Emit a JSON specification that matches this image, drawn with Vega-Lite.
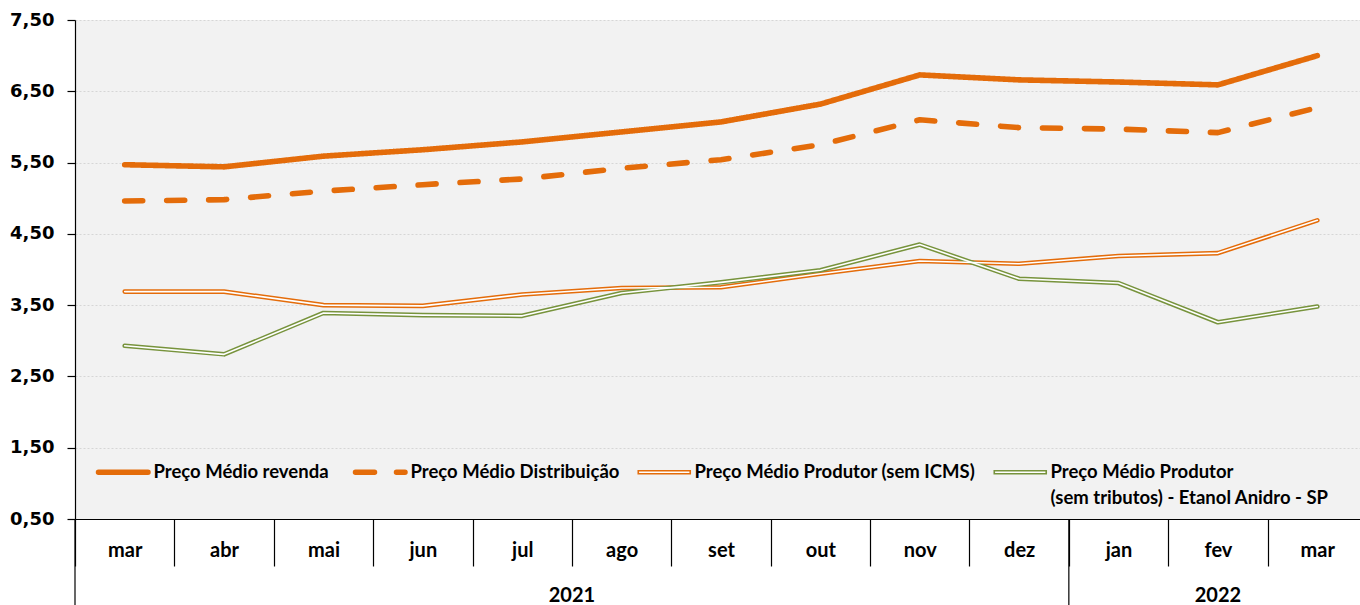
{
  "$schema": "https://vega.github.io/schema/vega-lite/v6.json",
  "width": 1292,
  "height": 499,
  "padding": {"left": 9, "top": 11, "right": 0, "bottom": 0},
  "background": "white",
  "config": {"view": {"fill": "#F2F2F2", "stroke": null}, "font": "Lato"},
  "datasets": {
    "precos": [
      {"periodo": "mar 2021", "serie": "Preço Médio revenda", "valor": 5.47},
      {"periodo": "abr 2021", "serie": "Preço Médio revenda", "valor": 5.44},
      {"periodo": "mai 2021", "serie": "Preço Médio revenda", "valor": 5.59},
      {"periodo": "jun 2021", "serie": "Preço Médio revenda", "valor": 5.68},
      {"periodo": "jul 2021", "serie": "Preço Médio revenda", "valor": 5.79},
      {"periodo": "ago 2021", "serie": "Preço Médio revenda", "valor": 5.93},
      {"periodo": "set 2021", "serie": "Preço Médio revenda", "valor": 6.07},
      {"periodo": "out 2021", "serie": "Preço Médio revenda", "valor": 6.32},
      {"periodo": "nov 2021", "serie": "Preço Médio revenda", "valor": 6.73},
      {"periodo": "dez 2021", "serie": "Preço Médio revenda", "valor": 6.66},
      {"periodo": "jan 2022", "serie": "Preço Médio revenda", "valor": 6.63},
      {"periodo": "fev 2022", "serie": "Preço Médio revenda", "valor": 6.59},
      {"periodo": "mar 2022", "serie": "Preço Médio revenda", "valor": 7.00},
      {"periodo": "mar 2021", "serie": "Preço Médio Distribuição", "valor": 4.96},
      {"periodo": "abr 2021", "serie": "Preço Médio Distribuição", "valor": 4.98},
      {"periodo": "mai 2021", "serie": "Preço Médio Distribuição", "valor": 5.10},
      {"periodo": "jun 2021", "serie": "Preço Médio Distribuição", "valor": 5.19},
      {"periodo": "jul 2021", "serie": "Preço Médio Distribuição", "valor": 5.27},
      {"periodo": "ago 2021", "serie": "Preço Médio Distribuição", "valor": 5.42},
      {"periodo": "set 2021", "serie": "Preço Médio Distribuição", "valor": 5.54},
      {"periodo": "out 2021", "serie": "Preço Médio Distribuição", "valor": 5.75},
      {"periodo": "nov 2021", "serie": "Preço Médio Distribuição", "valor": 6.10},
      {"periodo": "dez 2021", "serie": "Preço Médio Distribuição", "valor": 5.99},
      {"periodo": "jan 2022", "serie": "Preço Médio Distribuição", "valor": 5.97},
      {"periodo": "fev 2022", "serie": "Preço Médio Distribuição", "valor": 5.92},
      {"periodo": "mar 2022", "serie": "Preço Médio Distribuição", "valor": 6.27},
      {"periodo": "mar 2021", "serie": "Preço Médio Produtor (sem ICMS)", "valor": 3.69},
      {"periodo": "abr 2021", "serie": "Preço Médio Produtor (sem ICMS)", "valor": 3.69},
      {"periodo": "mai 2021", "serie": "Preço Médio Produtor (sem ICMS)", "valor": 3.50},
      {"periodo": "jun 2021", "serie": "Preço Médio Produtor (sem ICMS)", "valor": 3.49},
      {"periodo": "jul 2021", "serie": "Preço Médio Produtor (sem ICMS)", "valor": 3.65},
      {"periodo": "ago 2021", "serie": "Preço Médio Produtor (sem ICMS)", "valor": 3.74},
      {"periodo": "set 2021", "serie": "Preço Médio Produtor (sem ICMS)", "valor": 3.75},
      {"periodo": "out 2021", "serie": "Preço Médio Produtor (sem ICMS)", "valor": 3.94},
      {"periodo": "nov 2021", "serie": "Preço Médio Produtor (sem ICMS)", "valor": 4.12},
      {"periodo": "dez 2021", "serie": "Preço Médio Produtor (sem ICMS)", "valor": 4.08},
      {"periodo": "jan 2022", "serie": "Preço Médio Produtor (sem ICMS)", "valor": 4.19},
      {"periodo": "fev 2022", "serie": "Preço Médio Produtor (sem ICMS)", "valor": 4.23},
      {"periodo": "mar 2022", "serie": "Preço Médio Produtor (sem ICMS)", "valor": 4.69},
      {"periodo": "mar 2021", "serie": "Preço Médio Produtor (sem tributos)  - Etanol Anidro - SP", "valor": 2.93},
      {"periodo": "abr 2021", "serie": "Preço Médio Produtor (sem tributos)  - Etanol Anidro - SP", "valor": 2.81},
      {"periodo": "mai 2021", "serie": "Preço Médio Produtor (sem tributos)  - Etanol Anidro - SP", "valor": 3.39},
      {"periodo": "jun 2021", "serie": "Preço Médio Produtor (sem tributos)  - Etanol Anidro - SP", "valor": 3.36},
      {"periodo": "jul 2021", "serie": "Preço Médio Produtor (sem tributos)  - Etanol Anidro - SP", "valor": 3.35},
      {"periodo": "ago 2021", "serie": "Preço Médio Produtor (sem tributos)  - Etanol Anidro - SP", "valor": 3.67},
      {"periodo": "set 2021", "serie": "Preço Médio Produtor (sem tributos)  - Etanol Anidro - SP", "valor": 3.82},
      {"periodo": "out 2021", "serie": "Preço Médio Produtor (sem tributos)  - Etanol Anidro - SP", "valor": 3.99},
      {"periodo": "nov 2021", "serie": "Preço Médio Produtor (sem tributos)  - Etanol Anidro - SP", "valor": 4.35},
      {"periodo": "dez 2021", "serie": "Preço Médio Produtor (sem tributos)  - Etanol Anidro - SP", "valor": 3.87},
      {"periodo": "jan 2022", "serie": "Preço Médio Produtor (sem tributos)  - Etanol Anidro - SP", "valor": 3.81},
      {"periodo": "fev 2022", "serie": "Preço Médio Produtor (sem tributos)  - Etanol Anidro - SP", "valor": 3.26},
      {"periodo": "mar 2022", "serie": "Preço Médio Produtor (sem tributos)  - Etanol Anidro - SP", "valor": 3.48}
    ],
    "divisas": [
      {"periodo": "mar 2021"},
      {"periodo": "jan 2022"}
    ],
    "anos": [
      {"ano": "2021", "periodo": "ago 2021"},
      {"ano": "2022", "periodo": "fev 2022"}
    ]
  },
  "layer": [
    {
      "data": {"name": "precos"},
      "transform": [{"filter": "indexof(['Preço Médio revenda', 'Preço Médio Distribuição'], datum.serie) >= 0"}],
      "mark": {"type": "line", "strokeCap": "round", "strokeJoin": "round", "strokeWidth": 5.6},
      "encoding": {
        "x": {
          "field": "periodo", "type": "ordinal", "bandPosition": 0.5,
          "sort": ["mar 2021", "abr 2021", "mai 2021", "jun 2021", "jul 2021", "ago 2021", "set 2021", "out 2021", "nov 2021", "dez 2021", "jan 2022", "fev 2022", "mar 2022"],
          "scale": {"type": "band", "paddingInner": 0, "paddingOuter": 0},
          "axis": {
            "title": null, "labelAngle": 0, "tickBand": "extent", "tickSize": 47, "tickColor": "black", "tickWidth": 1.2,
            "domainColor": "black", "domainWidth": 1.2, "grid": false,
            "labelExpr": "split(datum.label, ' ')[0]",
            "labelFont": "Lato", "labelFontSize": 20, "labelFontWeight": "bold", "labelColor": "black",
            "labelBaseline": "middle", "labelPadding": -16
          }
        },
        "y": {
          "field": "valor", "type": "quantitative",
          "scale": {"domain": [0.5, 7.5], "nice": false, "zero": false},
          "axis": {
            "title": null, "values": [0.5, 1.5, 2.5, 3.5, 4.5, 5.5, 6.5, 7.5],
            "labelExpr": "replace(format(datum.value, '.2f'), '.', ',')",
            "labelFont": "DejaVu Sans", "labelFontSize": 18, "labelFontWeight": "bold", "labelColor": "black",
            "labelPadding": 13, "tickSize": 8, "tickColor": "black", "tickWidth": 1.2,
            "domainColor": "black", "domainWidth": 1.2,
            "grid": true, "gridColor": "#D6D6D6", "gridDash": [2, 2], "gridWidth": 1
          }
        },
        "color": {
          "field": "serie", "type": "nominal",
          "scale": {
            "domain": ["Preço Médio revenda", "Preço Médio Distribuição", "Preço Médio Produtor (sem ICMS)", "Preço Médio Produtor (sem tributos)  - Etanol Anidro - SP"],
            "range": ["#E46C0A", "#E46C0A", "#E46C0A", "#77933C"]
          },
          "legend": {
            "title": null, "orient": "none", "legendX": 22, "legendY": 443, "direction": "horizontal", "columns": 4,
            "gridAlign": "none", "columnPadding": 15, "padding": 0,
            "labelFont": "Lato", "labelFontSize": 18.5, "labelFontWeight": "bold", "labelColor": "black",
            "labelLimit": 500, "labelOffset": 21, "symbolOffset": 17, "symbolSize": 2450, "symbolType": "stroke",
            "labelExpr": "datum.label == 'Preço Médio Produtor (sem tributos)  - Etanol Anidro - SP' ? ['Preço Médio Produtor', '\u00a0\u00a0(sem tributos)  - Etanol Anidro - SP'] : datum.label",
            "encode": {
              "symbols": {
                "update": {
                  "size": {"value": 2450},
                  "shape": {"signal": "indexof(['Preço Médio revenda', 'Preço Médio Distribuição'], datum.value) >= 0 ? 'M-1,0H1' : 'M-1.05,-0.06H1.05V0.06H-1.05Z'"},
                  "strokeWidth": {"signal": "indexof(['Preço Médio revenda', 'Preço Médio Distribuição'], datum.value) >= 0 ? 5.5 : 1.6"},
                  "strokeDash": {"signal": "datum.value == 'Preço Médio Distribuição' ? [19, 22] : [1, 0]"},
                  "fill": {"signal": "indexof(['Preço Médio revenda', 'Preço Médio Distribuição'], datum.value) >= 0 ? 'transparent' : 'white'"},
                  "strokeCap": {"value": "round"},
                  "opacity": {"value": 1}
                }
              },
              "labels": {
                "update": {"lineHeight": {"value": 26}}
              }
            }
          }
        },
        "strokeDash": {
          "field": "serie", "type": "nominal", "legend": null,
          "scale": {
            "domain": ["Preço Médio revenda", "Preço Médio Distribuição"],
            "range": [[1, 0], [18, 24]]
          }
        }
      }
    },
    {
      "data": {"name": "precos"},
      "transform": [{"filter": "indexof(['Preço Médio Produtor (sem ICMS)', 'Preço Médio Produtor (sem tributos)  - Etanol Anidro - SP'], datum.serie) >= 0"}],
      "mark": {"type": "line", "strokeWidth": 4.6, "strokeCap": "round", "strokeJoin": "round"},
      "encoding": {
        "x": {"field": "periodo", "type": "ordinal", "bandPosition": 0.5,
              "sort": ["mar 2021", "abr 2021", "mai 2021", "jun 2021", "jul 2021", "ago 2021", "set 2021", "out 2021", "nov 2021", "dez 2021", "jan 2022", "fev 2022", "mar 2022"]},
        "y": {"field": "valor", "type": "quantitative"},
        "color": {"field": "serie", "type": "nominal"}
      }
    },
    {
      "data": {"name": "precos"},
      "transform": [{"filter": "indexof(['Preço Médio Produtor (sem ICMS)', 'Preço Médio Produtor (sem tributos)  - Etanol Anidro - SP'], datum.serie) >= 0"}],
      "mark": {"type": "line", "color": "white", "strokeWidth": 1.6, "strokeCap": "round", "strokeJoin": "round"},
      "encoding": {
        "x": {"field": "periodo", "type": "ordinal", "bandPosition": 0.5,
              "sort": ["mar 2021", "abr 2021", "mai 2021", "jun 2021", "jul 2021", "ago 2021", "set 2021", "out 2021", "nov 2021", "dez 2021", "jan 2022", "fev 2022", "mar 2022"]},
        "y": {"field": "valor", "type": "quantitative"},
        "detail": {"field": "serie"}
      }
    },
    {
      "data": {"name": "divisas"},
      "mark": {"type": "rule", "color": "black", "strokeWidth": 1.2},
      "encoding": {
        "x": {"field": "periodo", "type": "ordinal", "bandPosition": 0,
              "sort": ["mar 2021", "abr 2021", "mai 2021", "jun 2021", "jul 2021", "ago 2021", "set 2021", "out 2021", "nov 2021", "dez 2021", "jan 2022", "fev 2022", "mar 2022"]},
        "y": {"datum": 0.5, "type": "quantitative"},
        "y2": {"datum": -0.8}
      }
    },
    {
      "data": {"name": "anos"},
      "transform": [{"filter": "datum.ano == '2021'"}],
      "mark": {"type": "text", "font": "Lato", "fontSize": 20, "fontWeight": "bold", "color": "black", "baseline": "middle"},
      "encoding": {
        "x": {"field": "periodo", "type": "ordinal", "bandPosition": 0,
              "sort": ["mar 2021", "abr 2021", "mai 2021", "jun 2021", "jul 2021", "ago 2021", "set 2021", "out 2021", "nov 2021", "dez 2021", "jan 2022", "fev 2022", "mar 2022"]},
        "y": {"datum": -0.58, "type": "quantitative"},
        "text": {"field": "ano"}
      }
    },
    {
      "data": {"name": "anos"},
      "transform": [{"filter": "datum.ano == '2022'"}],
      "mark": {"type": "text", "font": "Lato", "fontSize": 20, "fontWeight": "bold", "color": "black", "baseline": "middle"},
      "encoding": {
        "x": {"field": "periodo", "type": "ordinal", "bandPosition": 0.5,
              "sort": ["mar 2021", "abr 2021", "mai 2021", "jun 2021", "jul 2021", "ago 2021", "set 2021", "out 2021", "nov 2021", "dez 2021", "jan 2022", "fev 2022", "mar 2022"]},
        "y": {"datum": -0.58, "type": "quantitative"},
        "text": {"field": "ano"}
      }
    }
  ]
}
